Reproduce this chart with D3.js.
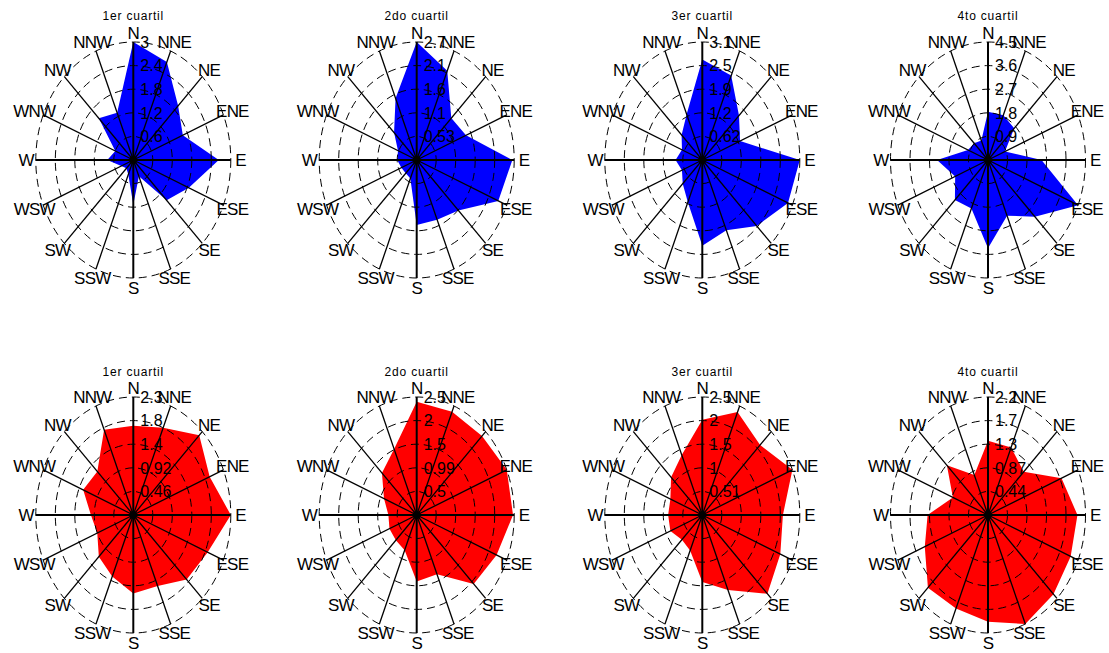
<!DOCTYPE html>
<html>
<head>
<meta charset="utf-8">
<script src="https://cdn.jsdelivr.net/npm/d3@7"></script>
<style>
  html, body { margin: 0; padding: 0; background: #fff; }
  svg { display: block; font-family: "Liberation Sans", Arial, sans-serif; }
</style>
</head>
<body>
<svg id="chart" width="1109" height="653"></svg>
<script>
// ---------- data ----------
const directions = ["N","NNE","NE","ENE","E","ESE","SE","SSE","S","SSW","SW","WSW","W","WNW","NW","NNW"];
const titles = ["1er cuartil","2do cuartil","3er cuartil","4to cuartil"];

// top row (blue)
const q1Blue = [3.0, 2.7, 1.95, 1.65, 2.63, 1.85, 1.45, 0.45, 1.14, 0.4, 0.3, 0.4, 0.8, 0.6, 1.5, 1.3];
const q2Blue = [2.65, 2.17, 1.33, 1.45, 2.6, 2.4, 1.6, 1.45, 1.46, 0.45, 0.42, 0.45, 0.53, 0.55, 0.87, 1.5];
const q3Blue = [2.64, 2.4, 1.65, 1.3, 3.1, 2.95, 2.45, 2.0, 2.25, 1.2, 0.88, 0.7, 0.85, 0.7, 0.93, 1.3];
const q4Blue = [1.84, 1.85, 1.71, 0.85, 2.47, 4.5, 3.06, 2.3, 3.37, 2.0, 2.16, 1.64, 2.35, 1.0, 0.9, 0.8];
// bottom row (red)
const q1Red = [1.74, 1.84, 2.2, 1.95, 2.3, 1.9, 1.78, 1.5, 1.53, 1.3, 1.15, 0.92, 1.0, 1.28, 1.2, 1.8];
const q2Red = [2.38, 2.35, 2.35, 2.48, 2.45, 2.2, 2.05, 1.35, 1.4, 0.8, 0.75, 0.75, 0.72, 0.9, 1.25, 1.5];
const q3Red = [2.05, 2.4, 2.13, 2.54, 2.1, 2.2, 2.4, 1.75, 1.44, 0.83, 0.75, 0.9, 0.89, 0.9, 1.15, 1.4];
const q4Red = [1.37, 1.35, 1.13, 1.78, 2.0, 2.0, 2.07, 2.18, 1.97, 1.87, 1.9, 1.53, 1.35, 0.85, 1.3, 0.8];

// radial maxima (outer ring) and ring tick labels
const maxBlue = [3.0, 2.65, 3.1, 4.5];
const maxRed = [2.3, 2.48, 2.54, 2.18];
const ticksBlue = [
  ["0.6","1.2","1.8","2.4","3"],
  ["0.53","1.1","1.6","2.1","2.7"],
  ["0.62","1.2","1.9","2.5","3.1"],
  ["0.9","1.8","2.7","3.6","4.5"]
];
const ticksRed = [
  ["0.46","0.92","1.4","1.8","2.3"],
  ["0.5","0.99","1.5","2","2.5"],
  ["0.51","1","1.5","2","2.5"],
  ["0.44","0.87","1.3","1.7","2.2"]
];

const panels = [
  {values: q1Blue, max: maxBlue[0], ticks: ticksBlue[0], title: titles[0], color: "#0000ff", col: 0, row: 0},
  {values: q2Blue, max: maxBlue[1], ticks: ticksBlue[1], title: titles[1], color: "#0000ff", col: 1, row: 0},
  {values: q3Blue, max: maxBlue[2], ticks: ticksBlue[2], title: titles[2], color: "#0000ff", col: 2, row: 0},
  {values: q4Blue, max: maxBlue[3], ticks: ticksBlue[3], title: titles[3], color: "#0000ff", col: 3, row: 0},
  {values: q1Red, max: maxRed[0], ticks: ticksRed[0], title: titles[0], color: "#ff0000", col: 0, row: 1},
  {values: q2Red, max: maxRed[1], ticks: ticksRed[1], title: titles[1], color: "#ff0000", col: 1, row: 1},
  {values: q3Red, max: maxRed[2], ticks: ticksRed[2], title: titles[2], color: "#ff0000", col: 2, row: 1},
  {values: q4Red, max: maxRed[3], ticks: ticksRed[3], title: titles[3], color: "#ff0000", col: 3, row: 1}
];

// ---------- layout ----------
const centersX = [133.3, 416.7, 702.3, 988];
const centersY = [160, 515];
const RX = 97.5, RY = 118;

const svg = d3.select("#chart");
const angle = d3.scaleLinear().domain([0, directions.length]).range([0, 2 * Math.PI]);

panels.forEach(p => {
  const cx = centersX[p.col], cy = centersY[p.row];
  const g = svg.append("g").attr("transform", `translate(${cx},${cy})`);
  const sx = d3.scaleLinear().domain([0, p.max]).range([0, RX]);
  const sy = d3.scaleLinear().domain([0, p.max]).range([0, RY]);
  const px = (v, i) => sx(v) * Math.sin(angle(i));
  const py = (v, i) => -sy(v) * Math.cos(angle(i));

  // filled patch
  const line = d3.line().x((d, i) => px(d, i)).y((d, i) => py(d, i)).curve(d3.curveLinearClosed);
  g.append("path").attr("d", line(p.values)).attr("fill", p.color).attr("stroke", "none");

  // dashed rings
  const ringVals = p.ticks.map((t, k) => p.max * (k + 1) / p.ticks.length);
  g.selectAll("ellipse.ring").data(ringVals).enter().append("ellipse")
    .attr("cx", 0).attr("cy", 0)
    .attr("rx", d => sx(d)).attr("ry", d => sy(d))
    .attr("fill", "none").attr("stroke", "#000").attr("stroke-width", 1)
    .attr("stroke-dasharray", "8,5");

  // spokes
  g.selectAll("line.spoke").data(directions).enter().append("line")
    .attr("x1", 0).attr("y1", 0)
    .attr("x2", (d, i) => px(p.max, i)).attr("y2", (d, i) => py(p.max, i))
    .attr("stroke", "#000").attr("stroke-width", (d, i) => (i % 4 === 0 ? 2 : 1.3));

  g.append("circle").attr("r", 4).attr("fill", "#000");

  // ring tick labels
  g.selectAll("text.tick").data(p.ticks).enter().append("text")
    .attr("x", 7).attr("y", (d, k) => -sy(ringVals[k]))
    .attr("dy", "0.36em")
    .attr("font-size", "16px").attr("fill", "#000")
    .text(d => d);

  // direction labels
  g.selectAll("text.dir").data(directions).enter().append("text")
    .attr("x", (d, i) => 1.1 * px(p.max, i))
    .attr("y", (d, i) => 1.08 * py(p.max, i))
    .attr("dy", "0.36em").attr("text-anchor", "middle")
    .attr("font-size", "17px").attr("fill", "#000")
    .attr("letter-spacing", "-0.8px")
    .text(d => d);

  // title
  svg.append("text")
    .attr("x", cx).attr("y", p.row === 0 ? 20 : 375.5)
    .attr("text-anchor", "middle").attr("font-size", "12px")
    .attr("letter-spacing", "0.8px").attr("fill", "#000")
    .text(p.title);
});
</script>
</body>
</html>
